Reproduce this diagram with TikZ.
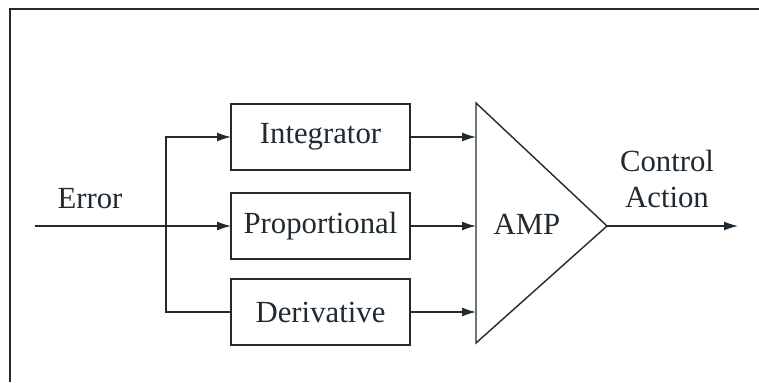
\documentclass[tikz,border=0pt]{standalone}
\usepackage{fontspec}
\setmainfont{Liberation Serif}
\usepackage{tikz}
\usetikzlibrary{arrows.meta,positioning}

\definecolor{inkc}{RGB}{32,42,48}

\begin{document}
\begin{tikzpicture}[
  x=0.02cm,
  y=-0.02cm,
  block/.style={
    rectangle,
    draw=inkc,
    line width=0.8pt,
    align=center,
    minimum width=3.58cm,
    minimum height=1.32cm,
    inner sep=0pt,
    outer sep=0pt,
    text=inkc,
    font=\fontsize{17.5}{20}\selectfont
  },
  lbl/.style={
    align=center,
    inner sep=0pt,
    text=inkc,
    font=\fontsize{17.5}{20.5}\selectfont
  },
  wire/.style={line width=0.8pt, draw=inkc},
  arrow/.style={-{Latex[length=2.8mm,width=1.8mm]}, line width=0.8pt, draw=inkc}
]
\useasboundingbox (0,0) rectangle (759,382);

\draw[line width=0.85pt, draw=inkc] (10,382) -- (10,9) -- (759,9);

\node[block] (integ) at (320.5,137) {Integrator};
\node[block] (prop) at (320.5,226) {Proportional};
\node[block] (deriv) at (320.5,312) {Derivative};

\coordinate (amptop) at (476,103);
\coordinate (ampbot) at (476,343);
\coordinate (ampout) at (607,226);
\draw[wire] (amptop) -- (ampout) -- (ampbot) -- cycle;
\node[lbl] (amp) at (527,224) {AMP};

\coordinate (errin) at (35,226);
\coordinate (split) at (166,226);
\coordinate (ctlout) at (738,226);

\node[lbl] (errlbl) at (90,199) {Error};
\node[lbl] (ctllbl) at (667,179) {Control\\Action};

\draw[arrow] (errin) -- (prop);
\draw[arrow] (split) |- (integ);
\draw[wire] (split) |- (deriv);
\draw[arrow] (integ) -- (integ -| amptop);
\draw[arrow] (prop) -- (prop -| amptop);
\draw[arrow] (deriv) -- (deriv -| amptop);
\draw[arrow] (ampout) -- (ctlout);
\end{tikzpicture}
\end{document}
